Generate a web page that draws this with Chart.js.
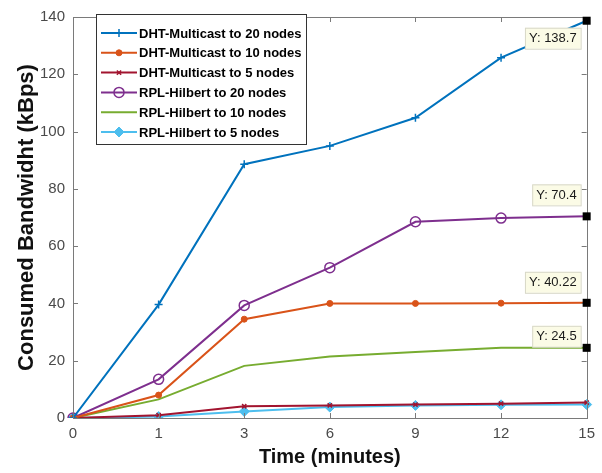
<!DOCTYPE html>
<html>
<head>
<meta charset="utf-8">
<script src="https://cdn.jsdelivr.net/npm/chart.js@4/dist/chart.umd.min.js"></script>
<style>
  html, body { margin: 0; padding: 0; background: #fff; }
  #wrap { width: 602px; height: 473px; }
</style>
</head>
<body>
<div id="wrap"><canvas id="chart" width="602" height="473"></canvas></div>
<script>
const timeLabels = ['0', '1', '3', '6', '9', '12', '15'];
const dhtTo20 = [0, 39.6, 88.6, 95, 104.8, 125.8, 138.7];
const dhtTo10 = [0, 8, 34.5, 40, 40, 40.1, 40.22];
const dhtTo5 = [0, 1, 4.1, 4.4, 4.7, 5, 5.4];
const rplTo20 = [0, 13.5, 39.3, 52.5, 68.5, 69.8, 70.4];
const rplTo10 = [0, 6.5, 18.2, 21.5, 23, 24.5, 24.5];
const rplTo5 = [0, 0.5, 2.3, 3.8, 4.4, 4.6, 4.7];
const tipLabels = ['Y: 138.7', 'Y: 40.22', 'Y: 70.4', 'Y: 24.5'];

const FONT = '"Liberation Sans", Arial, sans-serif';
const lastIdx = timeLabels.length - 1;

// hide the marker where a data tip square sits
function markerSize(r) {
  return c => (c.dataIndex === lastIdx ? 0 : r);
}

// legend drawn inside the axes, matlab style
const boxLegend = {
  id: 'boxLegend',
  afterDraw(chart) {
    const ctx = chart.ctx;
    const x0 = 96, y0 = 14, w = 210, h = 130;
    ctx.save();
    ctx.fillStyle = '#fff';
    ctx.fillRect(x0, y0, w, h);
    ctx.strokeStyle = '#333';
    ctx.lineWidth = 1;
    ctx.strokeRect(x0 + 0.5, y0 + 0.5, w, h);
    chart.data.datasets.forEach((ds, i) => {
      const y = 33 + i * 19.8;
      ctx.strokeStyle = ds.borderColor;
      ctx.lineWidth = 2;
      ctx.beginPath();
      ctx.moveTo(101, y);
      ctx.lineTo(137, y);
      ctx.stroke();
      if (ds.pointStyle && ds.legendRadius > 0) {
        ctx.fillStyle = ds.pointBackgroundColor;
        ctx.strokeStyle = ds.borderColor;
        ctx.lineWidth = ds.pointBorderWidth || 1.5;
        Chart.helpers.drawPoint(ctx, {
          pointStyle: ds.pointStyle,
          radius: ds.legendRadius,
          borderWidth: ds.pointBorderWidth || 1.5
        }, 119, y);
      }
      ctx.fillStyle = '#000';
      ctx.font = 'bold 13px ' + FONT;
      ctx.textBaseline = 'middle';
      ctx.fillText(ds.label, 139, y + 1);
    });
    ctx.restore();
  }
};

// axes box with inward ticks, plus data tips
const frame = {
  id: 'frame',
  afterDraw(chart) {
    const ctx = chart.ctx;
    const a = chart.chartArea;
    const xs = chart.scales.x, ys = chart.scales.y;
    ctx.save();
    ctx.strokeStyle = '#7a7a7a';
    ctx.lineWidth = 1;
    ctx.strokeRect(Math.round(a.left) + 0.5, Math.round(a.top) + 0.5,
      Math.round(a.right - a.left), Math.round(a.bottom - a.top));
    ctx.beginPath();
    timeLabels.forEach((t, i) => {
      const px = Math.round(xs.getPixelForValue(i)) + 0.5;
      ctx.moveTo(px, a.bottom); ctx.lineTo(px, a.bottom - 5);
      ctx.moveTo(px, a.top); ctx.lineTo(px, a.top + 5);
    });
    ys.ticks.forEach(t => {
      const py = Math.round(ys.getPixelForValue(t.value)) + 0.5;
      ctx.moveTo(a.left, py); ctx.lineTo(a.left + 5, py);
      ctx.moveTo(a.right, py); ctx.lineTo(a.right - 5, py);
    });
    ctx.stroke();

    // data tips at the last point of four series
    const tipText = { 0: tipLabels[0], 1: tipLabels[1], 3: tipLabels[2], 4: tipLabels[3] };
    const tipOff = { 0: 7, 1: -31, 3: -32, 4: -22 };
    [0, 1, 3, 4].forEach(di => {
      const meta = chart.getDatasetMeta(di);
      const pt = meta.data[meta.data.length - 1];
      const px = pt.x, py = pt.y;
      ctx.fillStyle = '#000';
      ctx.fillRect(px - 4, py - 4, 8, 8);
      ctx.font = '13px ' + FONT;
      const txt = tipText[di];
      const tw = ctx.measureText(txt).width + 8;
      const bx = px - 6 - tw, by = py + tipOff[di];
      ctx.fillStyle = '#fbfbe6';
      ctx.fillRect(bx, by, tw, 21);
      ctx.strokeStyle = '#d8d8c8';
      ctx.strokeRect(bx + 0.5, by + 0.5, tw, 21);
      ctx.fillStyle = '#1a1a1a';
      ctx.textBaseline = 'middle';
      ctx.fillText(txt, bx + 4, by + 11);
    });
    ctx.restore();
  }
};

const ctx = document.getElementById('chart');
new Chart(ctx, {
  type: 'line',
  data: {
    labels: timeLabels,
    datasets: [
      { label: 'DHT-Multicast to 20 nodes', data: dhtTo20, borderColor: '#0072BD',
        pointStyle: 'cross', pointRadius: markerSize(4), legendRadius: 4, pointBorderWidth: 1.5, pointBackgroundColor: '#0072BD' },
      { label: 'DHT-Multicast to 10 nodes', data: dhtTo10, borderColor: '#D95319',
        pointStyle: 'circle', pointRadius: markerSize(3), legendRadius: 3, pointBorderWidth: 1, pointBackgroundColor: '#D95319' },
      { label: 'DHT-Multicast to 5 nodes', data: dhtTo5, borderColor: '#A2142F',
        pointStyle: 'crossRot', pointRadius: 3, legendRadius: 3, pointBorderWidth: 1.5, pointBackgroundColor: '#A2142F' },
      { label: 'RPL-Hilbert to 20 nodes', data: rplTo20, borderColor: '#7E2F8E',
        pointStyle: 'circle', pointRadius: markerSize(5), legendRadius: 5, pointBorderWidth: 1.5, pointBackgroundColor: 'rgba(255,255,255,0)' },
      { label: 'RPL-Hilbert to 10 nodes', data: rplTo10, borderColor: '#77AC30',
        pointStyle: false, pointRadius: 0, legendRadius: 0, pointBackgroundColor: '#77AC30' },
      { label: 'RPL-Hilbert to 5 nodes', data: rplTo5, borderColor: '#4DBEEE',
        pointStyle: 'rectRot', pointRadius: 5, legendRadius: 5, pointBorderWidth: 1, pointBackgroundColor: '#4DBEEE' }
    ]
  },
  options: {
    responsive: false,
    animation: false,
    layout: { padding: { top: 15, right: 15 } },
    elements: { line: { borderWidth: 2, tension: 0, fill: false } },
    plugins: {
      legend: { display: false },
      tooltip: { enabled: false }
    },
    scales: {
      x: {
        type: 'category',
        offset: false,
        grid: { display: false, drawTicks: false },
        border: { display: false },
        ticks: { color: '#4a4a4a', font: { family: FONT, size: 15 }, padding: 7, maxRotation: 0 },
        title: { display: true, text: 'Time (minutes)', color: '#111',
          font: { family: FONT, size: 20, weight: 'bold' }, padding: { top: 0 } },
        afterFit(s) { s.height = 55; }
      },
      y: {
        min: 0, max: 140,
        grid: { display: false, drawTicks: false },
        border: { display: false },
        ticks: { stepSize: 20, color: '#4a4a4a', font: { family: FONT, size: 15 }, padding: 8 },
        title: { display: true, text: 'Consumed Bandwidht (kBps)', color: '#111',
          font: { family: FONT, size: 22, weight: 'bold' }, padding: { top: 14, bottom: 0 } },
        afterFit(s) { s.width = 73; }
      }
    }
  },
  plugins: [frame, boxLegend]
});
</script>
</body>
</html>
